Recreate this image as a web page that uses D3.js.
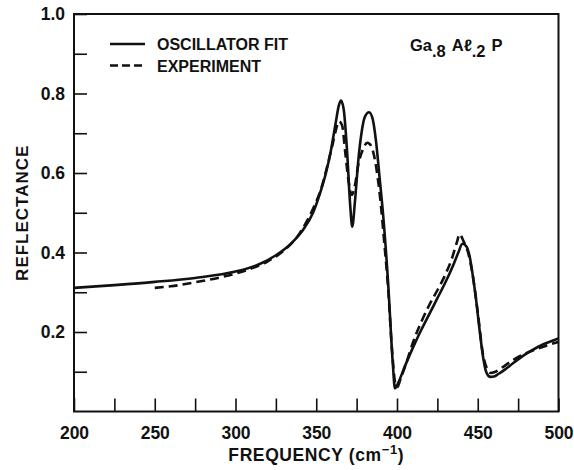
<!DOCTYPE html>
<html>
<head>
<meta charset="utf-8">
<script src="https://cdn.jsdelivr.net/npm/d3@7"></script>
<style>
  html, body { margin: 0; padding: 0; background: #fff; }
  svg { display: block; }
  text { font-family: "Liberation Sans", Arial, Helvetica, sans-serif; fill: #111; }
</style>
</head>
<body>
<svg id="chart" width="574" height="470"></svg>
<script>
// Frequency (cm^-1) and reflectance for the oscillator-model fit
const fitFreq = [200, 225, 250, 275, 300, 315, 325, 335, 342, 348, 352, 356, 359, 362, 364, 365.3, 367, 369, 371, 372.3, 374, 376, 378, 380, 382.7, 385, 387, 389.3, 391.3, 394.4, 397.5, 398.7, 400, 405, 410, 415, 420, 425, 430, 435, 438, 440.5, 443, 445, 447, 449, 451, 453, 455, 456.5, 458, 460, 463, 467, 472, 478, 484, 490, 495, 500];
const fitRefl = [0.311, 0.318, 0.326, 0.336, 0.352, 0.371, 0.393, 0.425, 0.458, 0.500, 0.545, 0.600, 0.655, 0.725, 0.770, 0.782, 0.760, 0.660, 0.520, 0.465, 0.530, 0.630, 0.700, 0.740, 0.753, 0.735, 0.680, 0.585, 0.500, 0.330, 0.115, 0.058, 0.066, 0.115, 0.162, 0.205, 0.245, 0.285, 0.325, 0.370, 0.400, 0.422, 0.415, 0.390, 0.340, 0.280, 0.210, 0.145, 0.102, 0.090, 0.087, 0.088, 0.095, 0.106, 0.122, 0.140, 0.155, 0.168, 0.176, 0.184];

// Measured reflectance
const expFreq = [250, 260, 275, 290, 300, 310, 320, 330, 340, 348, 353, 357, 360, 362, 364, 366, 368, 370, 372, 374, 376, 379, 381.6, 384, 386, 388, 390, 392, 394.5, 397, 399, 400.3, 402, 406, 410, 415, 420, 425, 430, 434, 437, 438.8, 441, 444, 447, 450, 453, 455.5, 458, 461, 466, 472, 478, 485, 492, 500];
const expRefl = [0.311, 0.315, 0.325, 0.337, 0.347, 0.360, 0.378, 0.405, 0.450, 0.510, 0.560, 0.620, 0.670, 0.705, 0.730, 0.720, 0.650, 0.580, 0.545, 0.570, 0.620, 0.660, 0.676, 0.668, 0.640, 0.590, 0.520, 0.430, 0.310, 0.150, 0.070, 0.062, 0.080, 0.125, 0.175, 0.225, 0.268, 0.305, 0.345, 0.385, 0.425, 0.446, 0.430, 0.400, 0.340, 0.250, 0.150, 0.110, 0.097, 0.100, 0.113, 0.130, 0.143, 0.155, 0.165, 0.175];

const xTicks = [200, 225, 250, 275, 300, 325, 350, 375, 400, 425, 450, 475, 500];
const xTickLabels = [200, 250, 300, 350, 400, 450, 500];
const yTicks = [0.1, 0.2, 0.3, 0.4, 0.5, 0.6, 0.7, 0.8, 0.9, 1.0];
const yTickLabels = [0.2, 0.4, 0.6, 0.8, 1.0];

const legendNames = ["OSCILLATOR FIT", "EXPERIMENT"];

const svg = d3.select("#chart");
const plotL = 74, plotR = 558.5, plotT = 14, plotB = 411.5;

const x = d3.scaleLinear().domain([200, 500]).range([plotL, plotR]);
const y = d3.scaleLinear().domain([0, 1]).range([plotB, plotT]);

// Frame
svg.append("rect")
  .attr("x", plotL).attr("y", plotT)
  .attr("width", plotR - plotL).attr("height", plotB - plotT)
  .attr("fill", "none").attr("stroke", "#111").attr("stroke-width", 2);

// Inward ticks, labels only on every other tick
const xAxis = d3.axisBottom(x)
  .tickValues(xTicks)
  .tickSizeInner(-13).tickSizeOuter(0).tickPadding(15)
  .tickFormat(d => xTickLabels.includes(d) ? d3.format("d")(d) : "");
const gx = svg.append("g").attr("transform", `translate(0,${plotB})`).call(xAxis);

const yAxis = d3.axisLeft(y)
  .tickValues(yTicks)
  .tickSizeInner(-13).tickSizeOuter(0).tickPadding(9)
  .tickFormat(d => yTickLabels.some(v => Math.abs(v - d) < 1e-9) ? d3.format(".1f")(d) : "");
const gy = svg.append("g").attr("transform", `translate(${plotL},0)`).call(yAxis);

[gx, gy].forEach(g => {
  g.select(".domain").remove();
  g.selectAll(".tick line").attr("stroke", "#111").attr("stroke-width", 1.6);
  g.selectAll(".tick text")
    .attr("fill", "#111")
    .style("font-size", "17.5px").style("font-weight", "bold")
    .style("font-family", "'Liberation Sans', Arial, sans-serif");
});

// Curves
const line = d3.line()
  .x(d => x(d[0])).y(d => y(d[1]))
  .curve(d3.curveMonotoneX);

const expData = expFreq.map((f, i) => [f, expRefl[i]]);
const fitData = fitFreq.map((f, i) => [f, fitRefl[i]]);

svg.append("path").datum(expData)
  .attr("d", line).attr("fill", "none")
  .attr("stroke", "#111").attr("stroke-width", 2.6)
  .attr("stroke-dasharray", "9,5");

svg.append("path").datum(fitData)
  .attr("d", line).attr("fill", "none")
  .attr("stroke", "#111").attr("stroke-width", 2.6);

// Legend
const legend = svg.append("g");
legendNames.forEach((name, i) => {
  const ly = 44 + i * 21.5;
  legend.append("line")
    .attr("x1", 110).attr("x2", 145).attr("y1", ly).attr("y2", ly)
    .attr("stroke", "#111").attr("stroke-width", 2.4)
    .attr("stroke-dasharray", i === 0 ? null : "8,4");
  legend.append("text")
    .attr("x", 157).attr("y", ly + 6)
    .style("font-size", "16px").style("font-weight", "bold")
    .text(name);
});

// Compound label
const comp = svg.append("text").attr("x", 410).attr("y", 51)
  .style("font-size", "16.5px").style("font-weight", "bold");
comp.append("tspan").text("Ga");
comp.append("tspan").attr("dy", 6).text(".8");
comp.append("tspan").attr("dy", -6).attr("dx", 6).text("A\u2113");
comp.append("tspan").attr("dy", 6).text(".2");
comp.append("tspan").attr("dy", -6).attr("dx", 6).text("P");

// Axis titles
svg.append("text")
  .attr("transform", `translate(28,${(plotT + plotB) / 2}) rotate(-90)`)
  .attr("text-anchor", "middle")
  .style("font-size", "17px").style("font-weight", "bold").style("letter-spacing", "1px")
  .text("REFLECTANCE");

const xt = svg.append("text")
  .attr("x", (plotL + plotR) / 2).attr("y", 461)
  .attr("text-anchor", "middle")
  .style("font-size", "17.5px").style("font-weight", "bold").style("letter-spacing", "0.6px");
xt.append("tspan").text("FREQUENCY (cm");
xt.append("tspan").attr("dy", -7).style("font-size", "13px").text("\u22121");
xt.append("tspan").attr("dy", 7).text(")");
</script>
</body>
</html>
